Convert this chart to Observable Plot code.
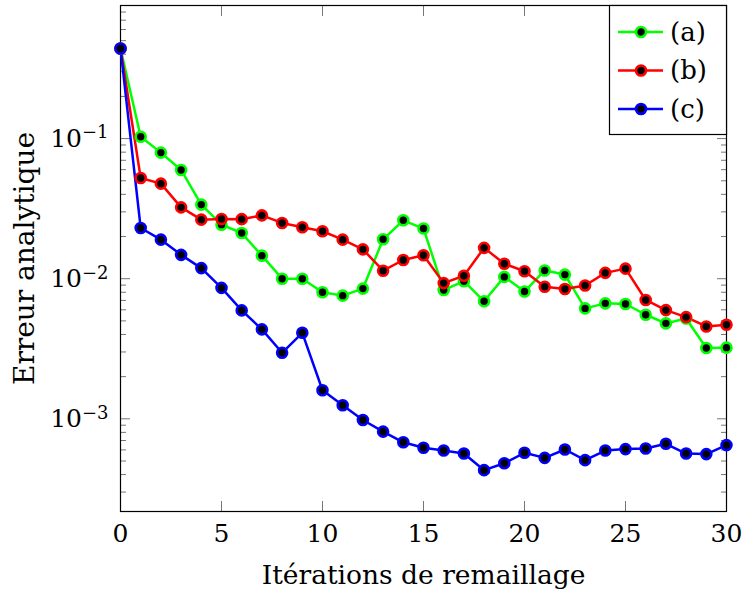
<!DOCTYPE html>
<html><head><meta charset="utf-8">
<script src="https://cdn.jsdelivr.net/npm/d3@7"></script>
<script src="https://cdn.jsdelivr.net/npm/@observablehq/plot@0.6"></script>
<style>
body{margin:0;background:#fff;}
#wrap{position:relative;width:745px;height:597px;font-family:"DejaVu Serif";}
#legend{position:absolute;left:609px;top:5px;}
</style>
</head><body><div id="wrap"><div id="chart"></div><div id="legend"></div></div>
<script>
const iterations = [0,1,2,3,4,5,6,7,8,9,10,11,12,13,14,15,16,17,18,19,20,21,22,23,24,25,26,27,28,29,30];
const seriesA = [0.44,0.103,0.0794,0.0597,0.0338,0.0243,0.0212,0.0146,0.0100,0.0100,0.0080,0.00757,0.0085,0.0191,0.0261,0.0228,0.0083,0.0096,0.0069,0.0103,0.0081,0.01145,0.0107,0.00614,0.00667,0.0066,0.00553,0.0048,0.0052,0.0032,0.00322];
const seriesB = [0.44,0.0523,0.0477,0.0323,0.0264,0.0267,0.0266,0.0283,0.025,0.0233,0.0218,0.019,0.0162,0.0114,0.0136,0.0147,0.0093,0.0105,0.0166,0.0128,0.0113,0.00877,0.00844,0.00895,0.011,0.0118,0.00705,0.00597,0.00532,0.00456,0.00469];
const seriesC = [0.44,0.023,0.019,0.0148,0.0119,0.0086,0.00594,0.00435,0.00296,0.00411,0.0016,0.00125,0.00098,0.00081,0.00068,0.000622,0.000594,0.000565,0.00043,0.000482,0.000572,0.000526,0.000604,0.000507,0.000594,0.000608,0.000614,0.000663,0.000565,0.00056,0.000649];
const seriesNames = ["(a)","(b)","(c)"];
const seriesColors = ["#00ff00","#ff0000","#0000ff"];
const xTicks = [0,5,10,15,20,25,30];
const yMajorTicks = [0.1,0.01,0.001];
const yMinorTicks = [0.0003,0.0004,0.0005,0.0006,0.0007,0.0008,0.0009,0.002,0.003,0.004,0.005,0.006,0.007,0.008,0.009,0.02,0.03,0.04,0.05,0.06,0.07,0.08,0.09,0.2,0.3,0.4,0.5,0.6,0.7,0.8];
const xLabel = "Itérations de remaillage";
const yLabel = "Erreur analytique";

const allSeries = [seriesA, seriesB, seriesC];
const data = [];
allSeries.forEach((s, k) => s.forEach((v, i) => data.push({it: iterations[i], err: v, serie: seriesNames[k]})));

const font = "DejaVu Serif";
const tickColor = "#777";

const chart = Plot.plot({
  width: 745, height: 597,
  marginTop: 5, marginBottom: 86, marginLeft: 120, marginRight: 19,
  style: {fontFamily: font, fontSize: "25px", background: "white", color: "black", overflow: "visible"},
  x: {domain: [0, 30]},
  y: {type: "log", domain: [2.18e-4, 0.891]},
  color: {domain: seriesNames, range: seriesColors},
  marks: [
    Plot.axisX({ticks: xTicks, tickSize: -10, tickFormat: () => "", stroke: tickColor, label: null}),
    Plot.axisX({anchor: "top", ticks: xTicks, tickSize: -10, tickFormat: () => "", stroke: tickColor, label: null}),
    Plot.axisY({ticks: yMajorTicks, tickSize: -10, tickFormat: () => "", stroke: tickColor, label: null}),
    Plot.axisY({anchor: "right", ticks: yMajorTicks, tickSize: -10, tickFormat: () => "", stroke: tickColor, label: null}),
    Plot.axisY({ticks: yMinorTicks, tickSize: -6, tickFormat: () => "", stroke: tickColor, label: null}),
    Plot.axisY({anchor: "right", ticks: yMinorTicks, tickSize: -6, tickFormat: () => "", stroke: tickColor, label: null}),
    Plot.axisX({ticks: xTicks, tickSize: 0, tickPadding: 13, tickFormat: d => String(d), fontSize: 25, label: null}),
    Plot.axisX({ticks: [], tickSize: 0, fontSize: 26.5,
      label: xLabel, labelAnchor: "center", labelOffset: 72, labelArrow: "none"}),
    Plot.axisY({ticks: yMajorTicks, tickSize: 0, tickPadding: 12, tickFormat: d => "10^" + Math.round(Math.log10(d)), fontSize: 25, label: null}),
    Plot.axisY({ticks: [], tickSize: 0, fontSize: 28,
      label: yLabel, labelAnchor: "center", labelOffset: 106, labelArrow: "none"}),
    Plot.frame({stroke: "black", strokeWidth: 1.2}),
    Plot.line(data, {x: "it", y: "err", stroke: "serie", strokeWidth: 2.5, z: "serie"}),
    Plot.dot(data, {x: "it", y: "err", stroke: "serie", fill: "black", r: 5, strokeWidth: 2.6})
  ]
});
document.getElementById("chart").appendChild(chart);

d3.select(chart).selectAll("text").each(function() {
  const t = this.textContent;
  const m = /^10\^(-?\d+)$/.exec(t);
  if (m) {
    const sel = d3.select(this);
    sel.text("10");
    sel.append("tspan").attr("dy", "-0.45em").attr("font-size", "0.72em").text(m[1].replace("-", "\u2212"));
  }
});

const lw = 117, lh = 129;
const lg = d3.select("#legend").append("svg").attr("width", lw + 2).attr("height", lh + 2)
  .style("font-family", font).style("font-size", "26px").style("overflow", "visible");
lg.append("rect").attr("x", 0.5).attr("y", 0.5).attr("width", lw).attr("height", lh)
  .attr("fill", "white").attr("stroke", "black").attr("stroke-width", 1.2);
seriesNames.forEach((name, k) => {
  const cy = 27 + k * 38.5;
  const g = lg.append("g").attr("transform", `translate(0,${cy})`);
  g.append("line").attr("x1", 9).attr("x2", 54).attr("stroke", seriesColors[k]).attr("stroke-width", 2.5);
  g.append("circle").attr("cx", 32).attr("r", 5).attr("fill", "black").attr("stroke", seriesColors[k]).attr("stroke-width", 2.6);
  g.append("text").attr("x", 61).attr("dy", "0.34em").text(name);
});
</script>
</body></html>
